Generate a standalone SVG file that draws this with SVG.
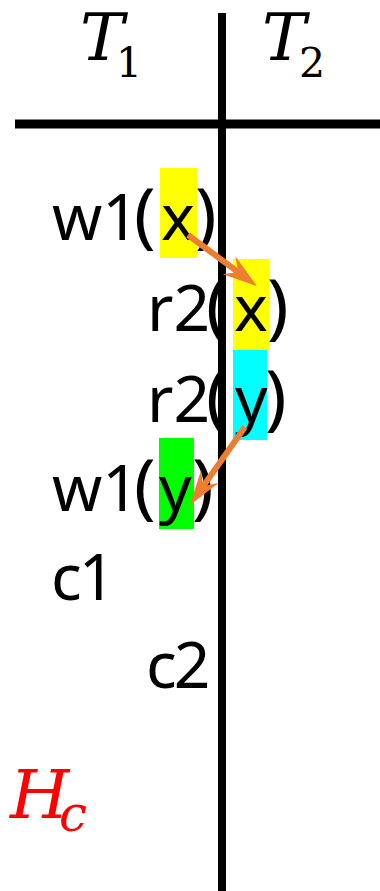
<svg xmlns="http://www.w3.org/2000/svg" width="380" height="891" viewBox="0 0 380 891">
  <style>
    .op { font-family: "Noto Sans", "Open Sans", sans-serif; font-size: 64px; fill: #000; }
    .par { font-size: 72px; }
    .tight { letter-spacing: -3px; }
    .math { font-family: "DejaVu Serif", serif; font-style: italic; }
    .sub { font-style: normal; }
    .conn { stroke: #ED7D31; stroke-width: 6; fill: none; }
  </style>
  <defs>
    <marker id="head" viewBox="0 0 35 22" refX="20" refY="11" markerWidth="35" markerHeight="22" orient="auto" markerUnits="userSpaceOnUse">
      <path d="M0,0 L35,11 L0,22 L12,11 Z" fill="#ED7D31"/>
    </marker>
  </defs>
  <rect width="380" height="891" fill="#fff"/>

  <!-- highlight blocks behind the data items -->
  <rect x="160" y="168" width="37" height="90" fill="#FFFF00"/>
  <rect x="233" y="259" width="37" height="91" fill="#FFFF00"/>
  <rect x="233" y="350" width="34" height="90" fill="#00FFFF"/>
  <rect x="159" y="438" width="35" height="91" fill="#00FF00"/>

  <!-- timeline axes -->
  <g id="axes">
    <line x1="222" y1="13" x2="222" y2="891" stroke="#000" stroke-width="8"/>
    <line x1="15" y1="124" x2="380" y2="124" stroke="#000" stroke-width="9"/>
  </g>

  <g id="T1"><text x="80" y="60" font-size="66" class="math">T<tspan class="sub" x="116" y="77" font-size="41">1</tspan></text></g>
  <g id="T2"><text x="262" y="60" font-size="66" class="math">T<tspan class="sub" x="299" y="77" font-size="41">2</tspan></text></g>

  <g id="w1x"><text class="op" x="52" y="240">w1<tspan class="par" x="134">(</tspan><tspan x="161">x</tspan><tspan class="par" x="195">)</tspan></text></g>
  <g id="r2x"><text class="op" x="147" y="331">r2<tspan class="par" x="206">(</tspan><tspan x="234">x</tspan><tspan class="par" x="267">)</tspan></text></g>
  <g id="r2y"><text class="op" x="147" y="422">r2<tspan class="par" x="206">(</tspan><tspan x="235">y</tspan><tspan class="par" x="265">)</tspan></text></g>
  <g id="w1y"><text class="op" x="52" y="511">w1<tspan class="par" x="134">(</tspan><tspan x="159">y</tspan><tspan class="par" x="192">)</tspan></text></g>
  <g id="c1"><text class="op tight" x="51" y="600">c1</text></g>
  <g id="c2"><text class="op tight" x="146" y="688">c2</text></g>

  <g id="Hc"><text x="10" y="818" font-size="68" fill="#FF0000" class="math">H<tspan x="59" y="831" font-size="50">c</tspan></text></g>

  <g id="connectors">
    <line class="conn" x1="188" y1="235" x2="244.9" y2="277.1" marker-end="url(#head)"/>
    <line class="conn" x1="245" y1="427" x2="198.6" y2="492.7" marker-end="url(#head)"/>
  </g>
</svg>
